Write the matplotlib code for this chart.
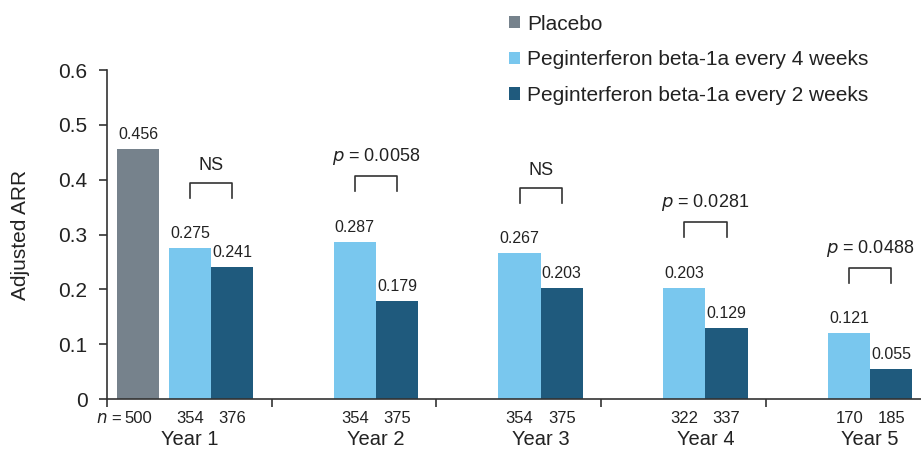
import matplotlib.pyplot as plt
import numpy as np
from matplotlib.transforms import blended_transform_factory

plt.rcParams['font.family'] = ['Liberation Sans', 'DejaVu Sans']

FIG_SIZE = (9.21, 4.49)

Colors = {"Placebo": "#76828c",
          "Peginterferon beta-1a every 4 weeks": "#79c7ee",
          "Peginterferon beta-1a every 2 weeks": "#1f5a7d"}

years = ["Year 1", "Year 2", "Year 3", "Year 4", "Year 5"]
placebo = [0.456]
q4w = [0.275, 0.287, 0.267, 0.203, 0.121]
q2w = [0.241, 0.179, 0.203, 0.129, 0.055]
n_placebo = [500]
n_q4w = [354, 354, 354, 322, 170]
n_q2w = [376, 375, 375, 337, 185]
p_labels = ["NS", "$p$ = 0.0058", "NS", "$p$ = 0.0281", "$p$ = 0.0488"]
bracket_top = [0.394, 0.407, 0.385, 0.323, 0.239]

W = 0.256
X = np.arange(len(years))
x_pl = X[:1] + 0.062 + W / 2
x_4 = X + 0.376 + W / 2
x_2 = X + 0.632 + W / 2

fig = plt.figure(figsize=FIG_SIZE, dpi=100)
ax = fig.add_axes([0.116, 0.111, 0.884, 0.733])

b0 = ax.bar(x_pl, placebo, W, color=Colors["Placebo"], label="Placebo")
b1 = ax.bar(x_4, q4w, W, color=Colors["Peginterferon beta-1a every 4 weeks"],
            label="Peginterferon beta-1a every 4 weeks")
b2 = ax.bar(x_2, q2w, W, color=Colors["Peginterferon beta-1a every 2 weeks"],
            label="Peginterferon beta-1a every 2 weeks")
for b in (b0, b1, b2):
    ax.bar_label(b, fmt='%.3f', padding=5, fontsize=11.5, color='#222222')

# significance brackets
for i in range(len(years)):
    top = bracket_top[i]
    ax.plot([x_4[i], x_4[i], x_2[i], x_2[i]], [top - 0.028, top, top, top - 0.028],
            color='#333333', lw=1.2)
    ax.text((x_4[i] + x_2[i]) / 2, top + 0.016, p_labels[i], ha='center', va='bottom',
            fontsize=13, color='#222222')

# sample sizes under the axis
trans = blended_transform_factory(ax.transData, ax.transAxes)
for x, n in zip(x_pl, n_placebo):
    ax.text(x, -0.035, str(n), ha='center', va='top', fontsize=12, color='#222222', transform=trans)
    ax.text(x - 0.095, -0.035, "$n$ =", ha='right', va='top', fontsize=12, color='#222222', transform=trans)
for xs, ns in ((x_4, n_q4w), (x_2, n_q2w)):
    for x, n in zip(xs, ns):
        ax.text(x, -0.035, str(n), ha='center', va='top', fontsize=12, color='#222222', transform=trans)

ax.set_xlim(0, 4.94)
ax.set_ylim(0, 0.6)
ax.set_xticks(np.arange(0, 5))
ax.set_xticklabels([])
ax.tick_params(axis='x', which='major', length=6, width=1.2, color='#333333')
year_pos = [x_4[0]] + [(x_4[i] + x_2[i]) / 2 for i in range(1, len(years))]
ax.set_xticks(year_pos, minor=True)
ax.set_xticklabels(years, minor=True, fontsize=14.5, color='#222222')
ax.tick_params(axis='x', which='minor', length=0, pad=22)

ax.set_yticks(np.arange(0, 0.61, 0.1))
ax.set_yticklabels(["0", "0.1", "0.2", "0.3", "0.4", "0.5", "0.6"])
ax.tick_params(axis='y', length=6, width=1.2, color='#333333', labelsize=15,
               labelcolor='#222222', pad=8)
ax.set_ylabel('Adjusted ARR', fontsize=15, color='#222222', labelpad=20)

for s in ('top', 'right'):
    ax.spines[s].set_visible(False)
for s in ('left', 'bottom'):
    ax.spines[s].set_color('#333333')
    ax.spines[s].set_linewidth(1.2)

fig.legend(loc='upper left', bbox_to_anchor=(0.5365, 1.0), frameon=False, fontsize=15,
           handlelength=0.55, handleheight=0.55, handletextpad=0.35, labelspacing=0.8,
           borderaxespad=0.3, labelcolor='#222222')

fig.savefig('out.png', dpi=100)
